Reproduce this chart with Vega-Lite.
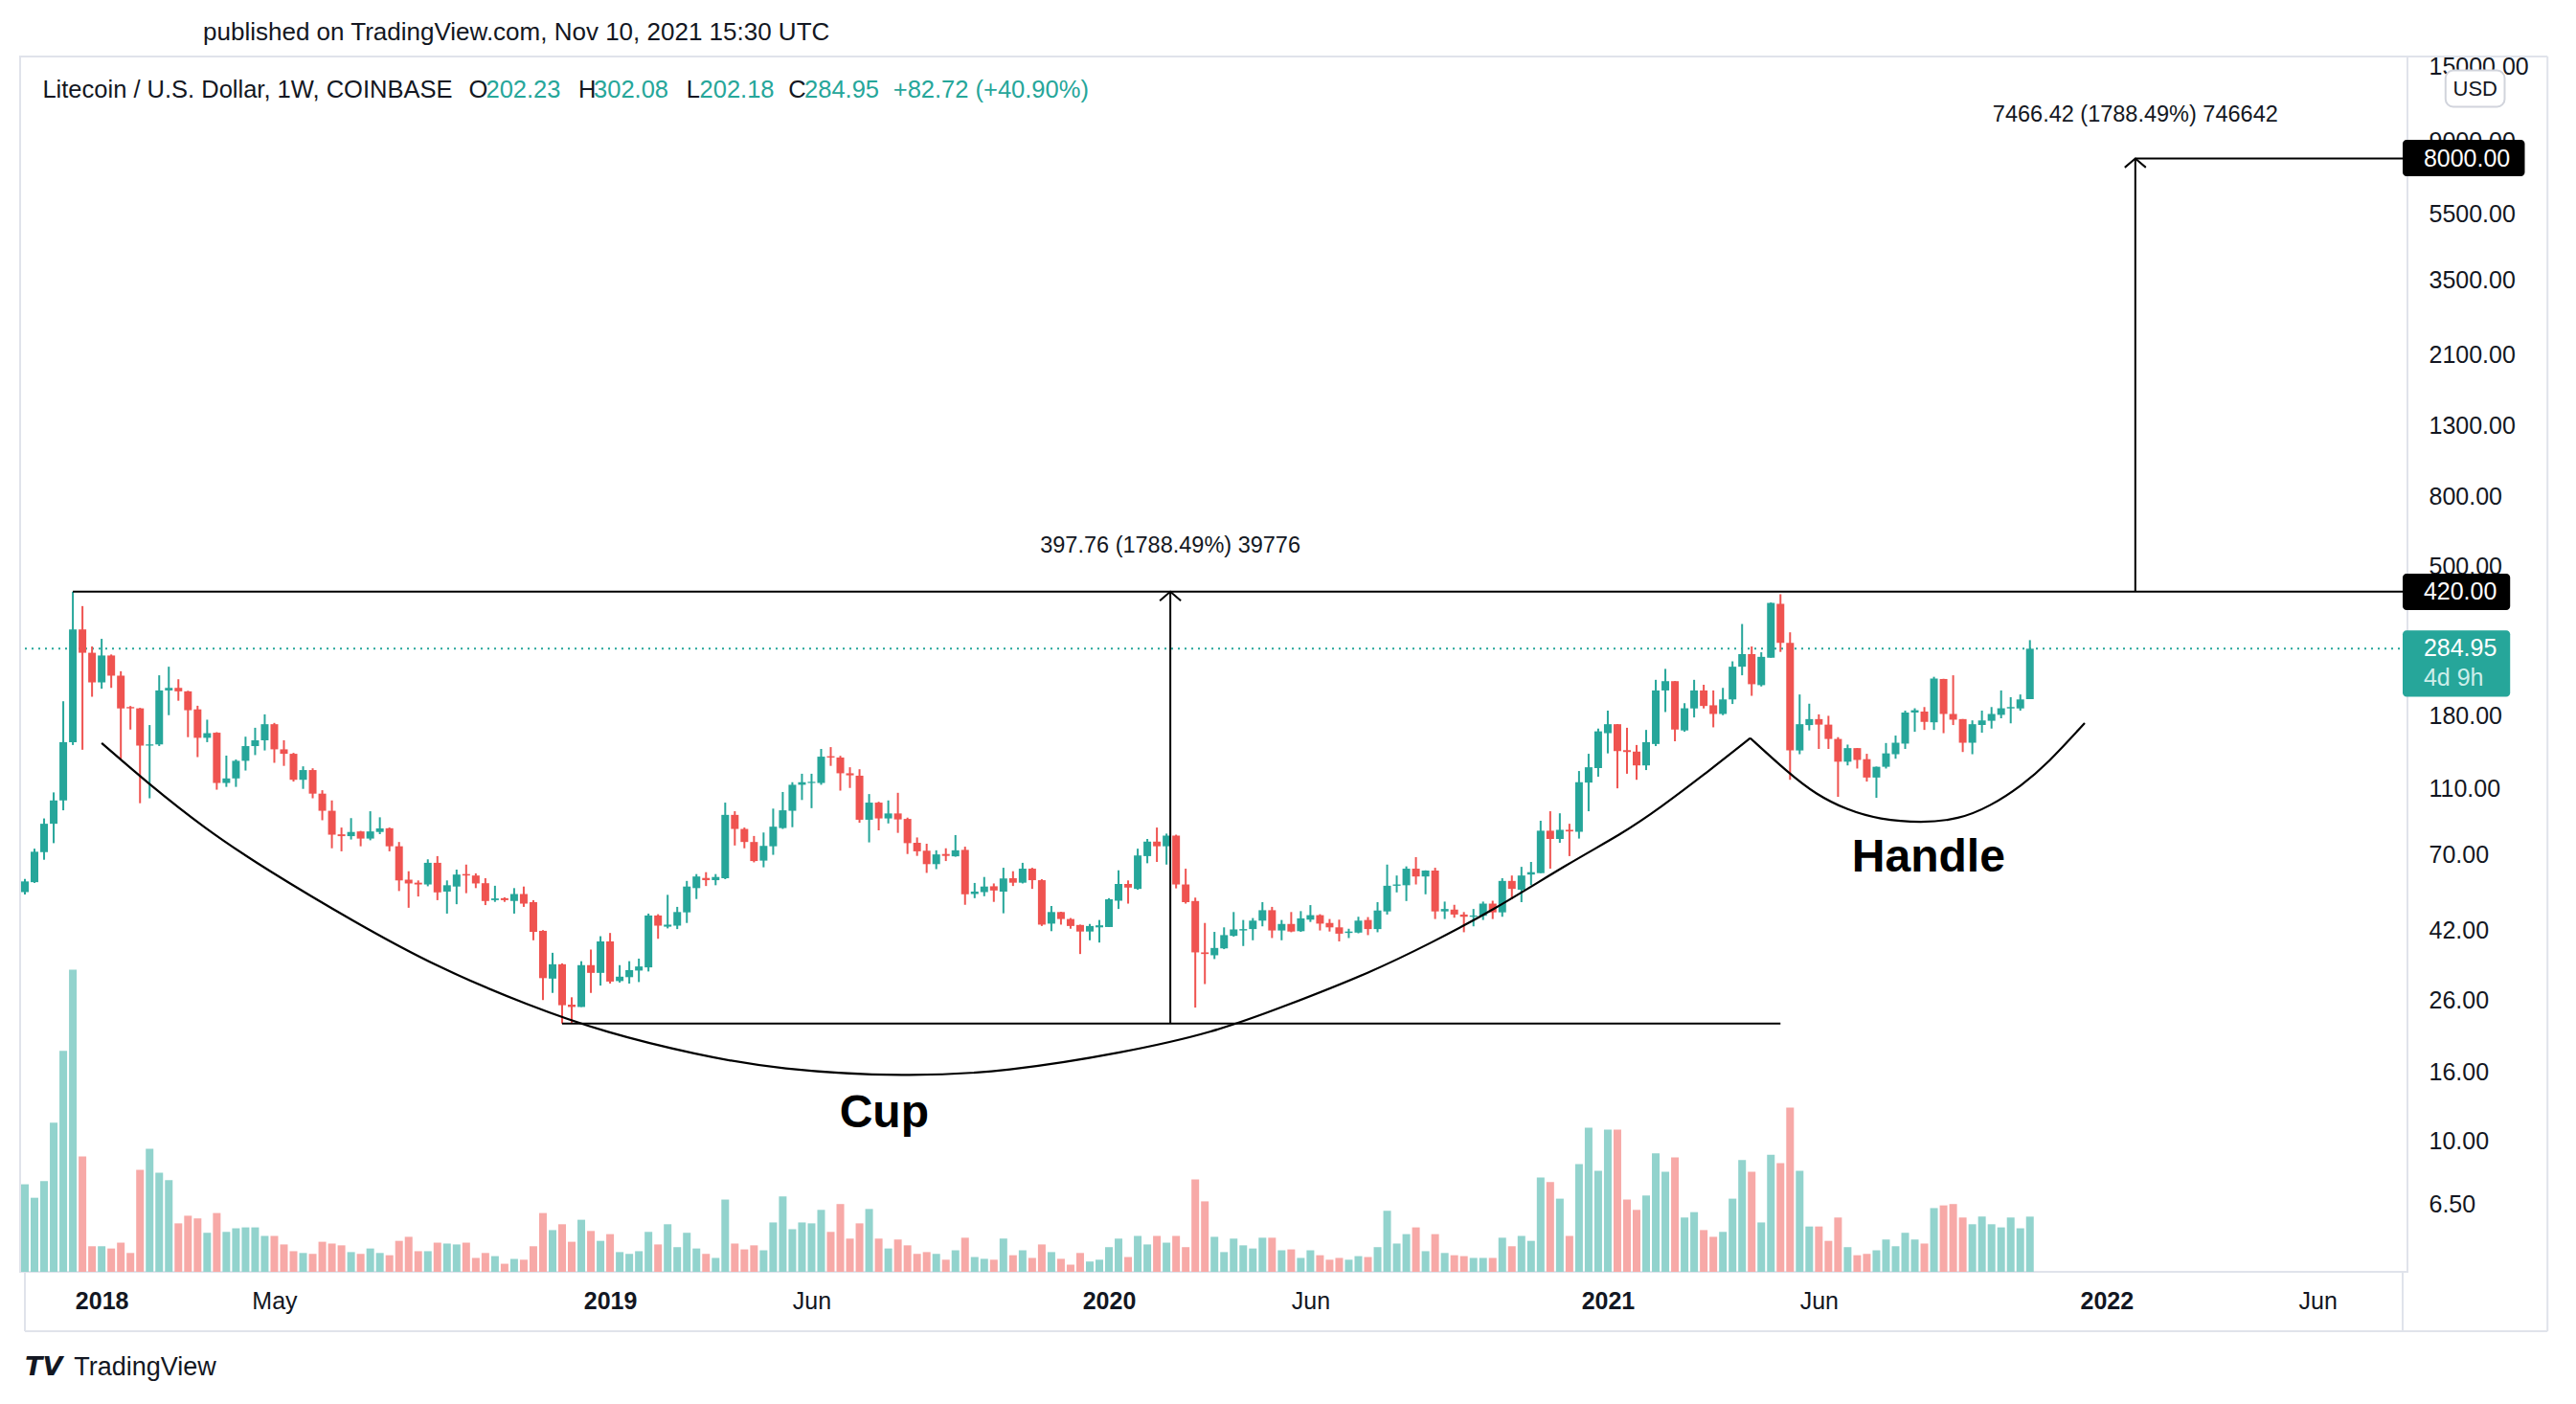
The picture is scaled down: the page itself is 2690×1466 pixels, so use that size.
{
"$schema": "https://vega.github.io/schema/vega-lite/v6.json",
"autosize": {"type": "none"},
"width": 2493, "height": 1269,
"padding": {"left": 21, "top": 59, "right": 176, "bottom": 138},
"background": "#ffffff",
"config": {"view": {"stroke": "#e0e3eb", "strokeWidth": 2}, "font": "Liberation Sans"},
"datasets": {
"candles": [
{"d":"2017-11-06","o":54.4,"h":59.5,"l":53.5,"c":58.5,"v":195},
{"d":"2017-11-13","o":58.2,"h":73.1,"l":57.9,"c":71.6,"v":165},
{"d":"2017-11-20","o":71.4,"h":89.8,"l":67.8,"c":86.6,"v":202},
{"d":"2017-11-27","o":86.6,"h":107.2,"l":75.9,"c":101.5,"v":332},
{"d":"2017-12-04","o":101.5,"h":199.3,"l":94.9,"c":150.9,"v":492},
{"d":"2017-12-11","o":150.9,"h":420,"l":148,"c":324.9,"v":673},
{"d":"2017-12-18","o":324.9,"h":380.8,"l":143.3,"c":277.2,"v":257},
{"d":"2017-12-25","o":277.2,"h":289.3,"l":205.5,"c":226.6,"v":57},
{"d":"2018-01-01","o":226.6,"h":304.7,"l":217,"c":272.1,"v":57},
{"d":"2018-01-08","o":272.1,"h":274,"l":218.3,"c":237.2,"v":52},
{"d":"2018-01-15","o":237.2,"h":244.5,"l":134.8,"c":189.8,"v":65},
{"d":"2018-01-22","o":191.6,"h":193,"l":164.4,"c":189.9,"v":42},
{"d":"2018-01-29","o":189.9,"h":190.5,"l":99.6,"c":147.4,"v":227},
{"d":"2018-02-05","o":147.4,"h":169.5,"l":103,"c":148.6,"v":274},
{"d":"2018-02-12","o":148.6,"h":237.8,"l":147,"c":214.5,"v":221},
{"d":"2018-02-19","o":214.5,"h":252.1,"l":181.3,"c":218.3,"v":204},
{"d":"2018-02-26","o":218.3,"h":231.5,"l":200,"c":213.2,"v":108},
{"d":"2018-03-05","o":213.2,"h":214,"l":156.1,"c":187.5,"v":125},
{"d":"2018-03-12","o":188.6,"h":193.3,"l":136.3,"c":155.4,"v":119},
{"d":"2018-03-19","o":155.4,"h":175.8,"l":150.9,"c":160.4,"v":87},
{"d":"2018-03-26","o":160.9,"h":161.5,"l":109.2,"c":114.3,"v":131},
{"d":"2018-04-02","o":114.3,"h":137.7,"l":111.3,"c":117.9,"v":89},
{"d":"2018-04-09","o":117.9,"h":134.1,"l":111.3,"c":132.9,"v":97},
{"d":"2018-04-16","o":132.9,"h":156.6,"l":124.4,"c":146.9,"v":99},
{"d":"2018-04-23","o":146.9,"h":166.4,"l":138.2,"c":152.8,"v":99},
{"d":"2018-04-30","o":152.8,"h":182.3,"l":142.6,"c":170.5,"v":80},
{"d":"2018-05-07","o":170.5,"h":172,"l":131.1,"c":143.7,"v":80},
{"d":"2018-05-14","o":143.7,"h":152.8,"l":128.4,"c":139.4,"v":61},
{"d":"2018-05-21","o":139.4,"h":140.3,"l":115.4,"c":116.8,"v":46},
{"d":"2018-05-28","o":116.8,"h":128,"l":109.8,"c":124.8,"v":42},
{"d":"2018-06-04","o":124.8,"h":126.3,"l":103,"c":106.3,"v":40},
{"d":"2018-06-11","o":106.3,"h":108.8,"l":88.7,"c":94.6,"v":67},
{"d":"2018-06-18","o":94.6,"h":101.5,"l":73.3,"c":80.4,"v":63},
{"d":"2018-06-25","o":80.6,"h":84.4,"l":71.8,"c":79.6,"v":59},
{"d":"2018-07-02","o":79.6,"h":90,"l":77.8,"c":81.9,"v":44},
{"d":"2018-07-09","o":82.2,"h":82.5,"l":74.3,"c":78.3,"v":40},
{"d":"2018-07-16","o":78.3,"h":94.3,"l":77.4,"c":82.2,"v":52},
{"d":"2018-07-23","o":81.9,"h":90.5,"l":80.7,"c":83.9,"v":42},
{"d":"2018-07-30","o":84,"h":84.4,"l":71.8,"c":74.3,"v":37},
{"d":"2018-08-06","o":74.3,"h":76.5,"l":54.8,"c":58.9,"v":69},
{"d":"2018-08-13","o":59.2,"h":62.7,"l":48.9,"c":57.7,"v":78},
{"d":"2018-08-20","o":58,"h":58.9,"l":52.8,"c":57.3,"v":46},
{"d":"2018-08-27","o":57.3,"h":68,"l":56.6,"c":66.4,"v":46},
{"d":"2018-09-03","o":66.4,"h":69.5,"l":51.5,"c":54.3,"v":65},
{"d":"2018-09-10","o":54.6,"h":58.9,"l":47,"c":57,"v":63},
{"d":"2018-09-17","o":56.5,"h":63.4,"l":50.1,"c":61.3,"v":61},
{"d":"2018-09-24","o":61.5,"h":65.6,"l":54,"c":60.9,"v":65},
{"d":"2018-10-01","o":60.9,"h":61.8,"l":55.9,"c":57.7,"v":31},
{"d":"2018-10-08","o":57.8,"h":59.8,"l":49.8,"c":51.2,"v":42},
{"d":"2018-10-15","o":51.5,"h":56.8,"l":50.9,"c":52.1,"v":35},
{"d":"2018-10-22","o":52.2,"h":52.5,"l":50.9,"c":51.5,"v":18},
{"d":"2018-10-29","o":51.2,"h":55.9,"l":47,"c":53.7,"v":29},
{"d":"2018-11-05","o":53.7,"h":56.5,"l":49.2,"c":50.3,"v":27},
{"d":"2018-11-12","o":50.8,"h":51.5,"l":39.2,"c":41.5,"v":57},
{"d":"2018-11-19","o":41.8,"h":42,"l":26.1,"c":30.3,"v":131},
{"d":"2018-11-26","o":30.2,"h":36,"l":27.4,"c":33.3,"v":93},
{"d":"2018-12-03","o":33.3,"h":33.5,"l":22.24,"c":25.2,"v":106},
{"d":"2018-12-10","o":25.3,"h":26.6,"l":22.3,"c":24.9,"v":67},
{"d":"2018-12-17","o":24.9,"h":34,"l":24.9,"c":33.1,"v":116},
{"d":"2018-12-24","o":33.1,"h":36.8,"l":27.4,"c":31.4,"v":91},
{"d":"2018-12-31","o":31.4,"h":40.3,"l":28.8,"c":38.9,"v":69},
{"d":"2019-01-07","o":38.9,"h":41.2,"l":29.2,"c":29.6,"v":84},
{"d":"2019-01-14","o":29.7,"h":33.1,"l":29.4,"c":30.6,"v":44},
{"d":"2019-01-21","o":30.5,"h":34,"l":29.2,"c":32,"v":40},
{"d":"2019-01-28","o":31.9,"h":34.6,"l":29.5,"c":32.8,"v":46},
{"d":"2019-02-04","o":32.6,"h":47,"l":31.7,"c":46.4,"v":89},
{"d":"2019-02-11","o":46.4,"h":46.8,"l":39.6,"c":43.3,"v":61},
{"d":"2019-02-18","o":43,"h":53.4,"l":42.5,"c":43.6,"v":106},
{"d":"2019-02-25","o":43.3,"h":49.2,"l":42.3,"c":47.5,"v":55},
{"d":"2019-03-04","o":47.4,"h":58.7,"l":44.1,"c":56.5,"v":87},
{"d":"2019-03-11","o":55.9,"h":61.5,"l":51.9,"c":60.5,"v":52},
{"d":"2019-03-18","o":59.9,"h":62.3,"l":56.7,"c":59,"v":40},
{"d":"2019-03-25","o":59,"h":61.5,"l":57,"c":60.3,"v":31},
{"d":"2019-04-01","o":59.8,"h":100,"l":59.4,"c":92,"v":161},
{"d":"2019-04-08","o":92,"h":94.3,"l":74.7,"c":83.6,"v":63},
{"d":"2019-04-15","o":83.6,"h":84.4,"l":73.3,"c":76.5,"v":50},
{"d":"2019-04-22","o":76.5,"h":79.7,"l":66.6,"c":67.2,"v":59},
{"d":"2019-04-29","o":67.4,"h":81.6,"l":64.4,"c":74.5,"v":48},
{"d":"2019-05-06","o":74.3,"h":96,"l":70.1,"c":84.9,"v":110},
{"d":"2019-05-13","o":84.1,"h":107.5,"l":83.6,"c":94.9,"v":168},
{"d":"2019-05-20","o":94.6,"h":114.9,"l":84.6,"c":112.9,"v":95},
{"d":"2019-05-27","o":112.9,"h":121.7,"l":101.8,"c":114.9,"v":110},
{"d":"2019-06-03","o":114.3,"h":121.7,"l":96.3,"c":115.2,"v":108},
{"d":"2019-06-10","o":114.3,"h":144.1,"l":112.9,"c":136.7,"v":138},
{"d":"2019-06-17","o":137.1,"h":145.9,"l":128.4,"c":135.9,"v":89},
{"d":"2019-06-24","o":135.9,"h":137.5,"l":108.5,"c":122.1,"v":151},
{"d":"2019-07-01","o":122.1,"h":127.2,"l":110.5,"c":120.4,"v":74},
{"d":"2019-07-08","o":120.1,"h":125.5,"l":87.2,"c":89,"v":108},
{"d":"2019-07-15","o":89,"h":106,"l":76.3,"c":100,"v":140},
{"d":"2019-07-22","o":100,"h":100.6,"l":82.8,"c":89.8,"v":74},
{"d":"2019-07-29","o":89.8,"h":101.5,"l":86.8,"c":92.9,"v":52},
{"d":"2019-08-05","o":92.9,"h":106.9,"l":81.4,"c":89.2,"v":72},
{"d":"2019-08-12","o":89.5,"h":90.3,"l":70.5,"c":75.9,"v":59},
{"d":"2019-08-19","o":76.1,"h":78.9,"l":69.6,"c":71.8,"v":40},
{"d":"2019-08-26","o":72.1,"h":75.6,"l":62,"c":65.8,"v":44},
{"d":"2019-09-02","o":65.8,"h":72.3,"l":63.6,"c":70.3,"v":40},
{"d":"2019-09-09","o":70.5,"h":73.3,"l":67.2,"c":69.6,"v":27},
{"d":"2019-09-16","o":69.4,"h":80.2,"l":69.2,"c":72.3,"v":48},
{"d":"2019-09-23","o":72.5,"h":74.1,"l":49.9,"c":53.6,"v":76},
{"d":"2019-09-30","o":53.7,"h":57.9,"l":52.2,"c":54.6,"v":33},
{"d":"2019-10-07","o":54.4,"h":60.3,"l":52.9,"c":56.5,"v":29},
{"d":"2019-10-14","o":56.6,"h":57.7,"l":50.9,"c":55,"v":27},
{"d":"2019-10-21","o":54.6,"h":64.2,"l":47.1,"c":59.7,"v":74},
{"d":"2019-10-28","o":59.8,"h":62.7,"l":56.7,"c":58,"v":37},
{"d":"2019-11-04","o":58,"h":66.4,"l":57.7,"c":63.8,"v":48},
{"d":"2019-11-11","o":63.8,"h":64.2,"l":55.6,"c":59,"v":31},
{"d":"2019-11-18","o":59,"h":59.4,"l":43.2,"c":43.6,"v":61},
{"d":"2019-11-25","o":43.9,"h":49.5,"l":41.7,"c":47.5,"v":44},
{"d":"2019-12-02","o":47.5,"h":47.6,"l":43.6,"c":45.3,"v":29},
{"d":"2019-12-09","o":45.3,"h":45.6,"l":42.4,"c":43.2,"v":16},
{"d":"2019-12-16","o":43.5,"h":43.6,"l":35.7,"c":41.6,"v":42},
{"d":"2019-12-23","o":41.6,"h":43.8,"l":39.2,"c":43.2,"v":23},
{"d":"2019-12-30","o":42.8,"h":45,"l":38.6,"c":43.4,"v":27},
{"d":"2020-01-06","o":42.9,"h":52.2,"l":42.9,"c":51.8,"v":55},
{"d":"2020-01-13","o":51.3,"h":63.1,"l":48.5,"c":57.5,"v":74},
{"d":"2020-01-20","o":57.5,"h":58.9,"l":50.3,"c":56.1,"v":33},
{"d":"2020-01-27","o":55.6,"h":73.1,"l":55.3,"c":69.8,"v":80},
{"d":"2020-02-03","o":69.5,"h":78.1,"l":66.2,"c":76.7,"v":61},
{"d":"2020-02-10","o":76.7,"h":84.4,"l":66.8,"c":74.3,"v":80},
{"d":"2020-02-17","o":74.3,"h":81,"l":65.6,"c":79.9,"v":65},
{"d":"2020-02-24","o":79.9,"h":80.4,"l":55.8,"c":57.3,"v":80},
{"d":"2020-03-02","o":57.3,"h":63.8,"l":50.3,"c":50.8,"v":55},
{"d":"2020-03-09","o":51.2,"h":52.4,"l":24.8,"c":36.1,"v":206},
{"d":"2020-03-16","o":36.1,"h":44.1,"l":29.1,"c":35.7,"v":157},
{"d":"2020-03-23","o":35.4,"h":41.5,"l":34.5,"c":37.2,"v":78},
{"d":"2020-03-30","o":37.1,"h":42.8,"l":36.9,"c":40.6,"v":44},
{"d":"2020-04-06","o":40.4,"h":47.5,"l":40.2,"c":42.2,"v":74},
{"d":"2020-04-13","o":41.9,"h":45,"l":37.7,"c":42.3,"v":59},
{"d":"2020-04-20","o":42.3,"h":45.6,"l":39.2,"c":44.8,"v":52},
{"d":"2020-04-27","o":44.8,"h":50.8,"l":43.1,"c":48.1,"v":76},
{"d":"2020-05-04","o":48.1,"h":49.2,"l":39.8,"c":41.9,"v":76},
{"d":"2020-05-11","o":41.9,"h":45,"l":39.2,"c":43.8,"v":48},
{"d":"2020-05-18","o":43.8,"h":47.5,"l":41.4,"c":41.6,"v":50},
{"d":"2020-05-25","o":41.7,"h":47.8,"l":41.5,"c":45.5,"v":31},
{"d":"2020-06-01","o":45.1,"h":49.8,"l":44.4,"c":46.5,"v":48},
{"d":"2020-06-08","o":46.5,"h":46.8,"l":41.9,"c":43.9,"v":37},
{"d":"2020-06-15","o":44.1,"h":45.3,"l":41.6,"c":42.8,"v":27},
{"d":"2020-06-22","o":42.8,"h":45.1,"l":38.9,"c":41,"v":31},
{"d":"2020-06-29","o":41.2,"h":42.4,"l":39.8,"c":41.6,"v":27},
{"d":"2020-07-06","o":41.3,"h":46,"l":41.1,"c":44.8,"v":35},
{"d":"2020-07-13","o":45,"h":45.9,"l":40.6,"c":42.3,"v":33},
{"d":"2020-07-20","o":42.3,"h":50.8,"l":41.4,"c":48,"v":55},
{"d":"2020-07-27","o":47.7,"h":65.6,"l":46.7,"c":56.8,"v":136},
{"d":"2020-08-03","o":56.8,"h":60.9,"l":54.3,"c":57.3,"v":63},
{"d":"2020-08-10","o":57,"h":64.8,"l":51.2,"c":63.8,"v":84},
{"d":"2020-08-17","o":63.8,"h":69,"l":57.3,"c":60.5,"v":99},
{"d":"2020-08-24","o":60.5,"h":63.1,"l":53.6,"c":63,"v":46},
{"d":"2020-08-31","o":63,"h":64.2,"l":45.3,"c":47.7,"v":84},
{"d":"2020-09-07","o":47.7,"h":51,"l":45.3,"c":48.5,"v":42},
{"d":"2020-09-14","o":48.3,"h":49.9,"l":45.7,"c":46.7,"v":37},
{"d":"2020-09-21","o":46.7,"h":47.5,"l":41.4,"c":46,"v":35},
{"d":"2020-09-28","o":46,"h":48.5,"l":43.1,"c":46.4,"v":31},
{"d":"2020-10-05","o":46.3,"h":51,"l":45,"c":50.3,"v":31},
{"d":"2020-10-12","o":50.3,"h":51.3,"l":45.3,"c":47.4,"v":31},
{"d":"2020-10-19","o":47.4,"h":59.8,"l":46,"c":58.7,"v":76},
{"d":"2020-10-26","o":58.7,"h":60.9,"l":51.8,"c":55.6,"v":57},
{"d":"2020-11-02","o":55.3,"h":64.6,"l":50.8,"c":60.9,"v":80},
{"d":"2020-11-09","o":61.3,"h":66.8,"l":57,"c":62.3,"v":69},
{"d":"2020-11-16","o":61.9,"h":88.4,"l":61.9,"c":82.6,"v":210},
{"d":"2020-11-23","o":82.6,"h":94.3,"l":63.8,"c":78.1,"v":200},
{"d":"2020-11-30","o":78.1,"h":93,"l":76.1,"c":83.1,"v":163},
{"d":"2020-12-07","o":83.1,"h":86.6,"l":69.5,"c":82.2,"v":80},
{"d":"2020-12-14","o":82,"h":124,"l":78.3,"c":114.9,"v":240},
{"d":"2020-12-21","o":114.6,"h":139.4,"l":94.3,"c":127.2,"v":321},
{"d":"2020-12-28","o":126.5,"h":165.5,"l":119.3,"c":162.4,"v":225},
{"d":"2021-01-04","o":160.4,"h":187,"l":139.8,"c":170.5,"v":317},
{"d":"2021-01-11","o":170.5,"h":170.6,"l":110.2,"c":142,"v":317},
{"d":"2021-01-18","o":142.9,"h":166.4,"l":121.7,"c":141.1,"v":161},
{"d":"2021-01-25","o":141.5,"h":148,"l":116.8,"c":128.8,"v":138},
{"d":"2021-02-01","o":128.8,"h":164,"l":124.8,"c":150.9,"v":170},
{"d":"2021-02-08","o":149,"h":230.6,"l":146.9,"c":214.5,"v":264},
{"d":"2021-02-15","o":214.5,"h":248.4,"l":185.2,"c":228.5,"v":223},
{"d":"2021-02-22","o":228.5,"h":228.6,"l":151.8,"c":164.4,"v":255},
{"d":"2021-03-01","o":163.4,"h":196.7,"l":161.9,"c":190,"v":121},
{"d":"2021-03-08","o":189.8,"h":230.6,"l":178.5,"c":214.5,"v":133},
{"d":"2021-03-15","o":214.5,"h":223,"l":189.8,"c":193,"v":93},
{"d":"2021-03-22","o":193.9,"h":214.5,"l":166.9,"c":182.8,"v":78},
{"d":"2021-03-29","o":182.8,"h":218.3,"l":181.3,"c":201.8,"v":89},
{"d":"2021-04-05","o":201.8,"h":261.5,"l":195.6,"c":252.1,"v":163},
{"d":"2021-04-12","o":252.1,"h":337.1,"l":237.8,"c":274.6,"v":249},
{"d":"2021-04-19","o":274.6,"h":289.3,"l":206.8,"c":223.8,"v":223},
{"d":"2021-04-26","o":222.4,"h":278.1,"l":220.4,"c":269.6,"v":110},
{"d":"2021-05-03","o":268,"h":390.3,"l":268,"c":389.1,"v":261},
{"d":"2021-05-10","o":386.7,"h":412.8,"l":278.8,"c":296.5,"v":242},
{"d":"2021-05-17","o":296.5,"h":318.6,"l":116.8,"c":142.6,"v":366},
{"d":"2021-05-24","o":142.6,"h":208.7,"l":139,"c":170.5,"v":225},
{"d":"2021-05-31","o":169.5,"h":196,"l":163.4,"c":176.5,"v":101},
{"d":"2021-06-07","o":176.5,"h":182.3,"l":144.1,"c":170,"v":101},
{"d":"2021-06-14","o":170,"h":180.5,"l":144.1,"c":154.2,"v":69},
{"d":"2021-06-21","o":154.2,"h":156.1,"l":104,"c":132.1,"v":121},
{"d":"2021-06-28","o":132.1,"h":148.4,"l":128.8,"c":144.9,"v":55},
{"d":"2021-07-05","o":144.9,"h":145,"l":126.1,"c":133.7,"v":37},
{"d":"2021-07-12","o":134.4,"h":139.4,"l":115.4,"c":118.6,"v":40},
{"d":"2021-07-19","o":118.6,"h":127.8,"l":103.3,"c":127.6,"v":48},
{"d":"2021-07-26","o":127.6,"h":150,"l":126.1,"c":139.8,"v":72},
{"d":"2021-08-02","o":139,"h":157.8,"l":134.8,"c":150.3,"v":57},
{"d":"2021-08-09","o":149.4,"h":187,"l":144.1,"c":184.6,"v":87},
{"d":"2021-08-16","o":184.6,"h":190,"l":161.9,"c":187.5,"v":72},
{"d":"2021-08-23","o":185.8,"h":191.6,"l":164,"c":173.2,"v":63},
{"d":"2021-08-30","o":172.7,"h":235.4,"l":164,"c":232.6,"v":142},
{"d":"2021-09-06","o":231.9,"h":232.2,"l":160.4,"c":182.8,"v":148},
{"d":"2021-09-13","o":182.8,"h":237.8,"l":169.5,"c":175.8,"v":151},
{"d":"2021-09-20","o":176.5,"h":176.6,"l":141.1,"c":150.3,"v":121},
{"d":"2021-09-27","o":150.3,"h":175,"l":139,"c":170.5,"v":106},
{"d":"2021-10-04","o":169.5,"h":187,"l":160.9,"c":175,"v":123},
{"d":"2021-10-11","o":174.5,"h":191.6,"l":165.5,"c":182.8,"v":106},
{"d":"2021-10-18","o":181.7,"h":214.5,"l":177.5,"c":190,"v":99},
{"d":"2021-10-25","o":189.8,"h":204.9,"l":171.5,"c":191.6,"v":121},
{"d":"2021-11-01","o":189.8,"h":208.7,"l":187,"c":201.8,"v":97},
{"d":"2021-11-08","o":202.23,"h":302.08,"l":202.18,"c":284.95,"v":123}
],
"cup": [
{"d":"2018-01-01","p":150.0},{"d":"2018-02-04","p":113.9},{"d":"2018-03-17","p":84.0},{"d":"2018-04-30","p":63.8},
{"d":"2018-07-06","p":44.0},{"d":"2018-09-03","p":32.6},{"d":"2018-11-09","p":25.1},{"d":"2019-01-04","p":20.9},
{"d":"2019-03-10","p":18.03},{"d":"2019-05-10","p":16.24},{"d":"2019-08-11","p":15.46},{"d":"2019-10-24","p":16.03},
{"d":"2020-01-17","p":18.26},{"d":"2020-03-22","p":20.9},{"d":"2020-05-12","p":24.9},{"d":"2020-07-16","p":31.6},
{"d":"2020-08-28","p":38.5},{"d":"2020-10-11","p":47.7},{"d":"2020-12-08","p":66.8},{"d":"2021-01-14","p":80.7},
{"d":"2021-02-11","p":96.3},{"d":"2021-03-20","p":125.2},{"d":"2021-04-18","p":155.1}
],
"handle": [
{"d":"2021-04-18","p":155.1},{"d":"2021-05-15","p":123.2},{"d":"2021-06-05","p":105.6},{"d":"2021-06-28","p":95.0},
{"d":"2021-07-21","p":89.2},{"d":"2021-08-21","p":87.1},{"d":"2021-09-17","p":89.2},{"d":"2021-10-10","p":97.5},
{"d":"2021-11-02","p":112.3},{"d":"2021-11-21","p":130.6},{"d":"2021-12-18","p":171.8}
],
"borders": [
{"d":"2017-11-06","d2":"2022-11-20T16:00:00Z","p":2.743,"p2":2.743},
{"d":"2022-11-20T16:00:00Z","d2":"2022-11-20T16:00:00Z","p":16014,"p2":2.743},
{"d":"2022-08-07","d2":"2022-11-20T16:00:00Z","p":16014,"p2":16014},
{"d":"2017-11-06","d2":"2017-11-06","p":4.108,"p2":2.743},
{"d":"2022-08-07","d2":"2022-08-07","p":4.108,"p2":2.743}
],
"lastprice": [{"d":"2017-11-06","d2":"2022-08-07","p":284.95}],
"hlines": [
{"d":"2017-12-11","d2":"2022-08-07","p":420},
{"d":"2018-12-03","d2":"2021-05-10","p":22.24},
{"d":"2022-01-23T22:00:00Z","d2":"2022-08-07","p":8000}
],
"vlines": [
{"d":"2020-02-19T19:00:00Z","p":22.24,"p2":420},
{"d":"2022-01-23T22:00:00Z","p":420,"p2":8000}
],
"arrows": [
{"d":"2020-02-19T19:00:00Z","p":420},
{"d":"2022-01-23T22:00:00Z","p":8000}
],
"measure": [
{"d":"2020-02-19T19:00:00Z","p":573.5,"t":"397.76 (1788.49%) 39776"},
{"d":"2022-01-23T22:00:00Z","p":10760,"t":"7466.42 (1788.49%) 746642"}
],
"big": [
{"d":"2019-07-26","p":12.07,"t":"Cup"},
{"d":"2021-08-26","p":68.6,"t":"Handle"}
],
"blacktags": [
{"d":"2022-08-07","d2":"2022-10-24T10:00:00Z","p":474.7,"p2":370.9},
{"d":"2022-08-07","d2":"2022-11-04T02:00:00Z","p":9084,"p2":7092}
],
"tealtag": [{"d":"2022-08-07","d2":"2022-10-24T10:00:00Z","p":322.6,"p2":205.6}],
"tagtext": [
{"d":"2022-08-22T07:00:00Z","p":420,"t":"420.00"},
{"d":"2022-08-22T07:00:00Z","p":8000,"t":"8000.00"},
{"d":"2022-08-22T07:00:00Z","p":284.95,"t":"284.95"}
],
"countdown": [{"d":"2022-08-22T07:00:00Z","p":233.1,"t":"4d 9h"}],
"usdbox": [{"d":"2022-09-07T07:00:00Z","d2":"2022-10-20T10:00:00Z","p":14568,"p2":11378}],
"usdtext": [{"d":"2022-09-28T22:00:00Z","p":12870,"t":"USD"}],
"headblack": [
{"d":"2017-11-18T21:00:00Z","p":12747,"t":"Litecoin / U.S. Dollar, 1W, COINBASE"},
{"d":"2018-09-25T22:00:00Z","p":12747,"t":"O"},
{"d":"2018-12-14T22:00:00Z","p":12747,"t":"H"},
{"d":"2019-03-03T14:00:00Z","p":12747,"t":"L"},
{"d":"2019-05-17T00:00:00Z","p":12747,"t":"C"}
],
"headteal": [
{"d":"2018-10-08T10:00:00Z","p":12747,"t":"202.23"},
{"d":"2018-12-26T02:00:00Z","p":12747,"t":"302.08"},
{"d":"2019-03-13T07:00:00Z","p":12747,"t":"202.18"},
{"d":"2019-05-28T19:00:00Z","p":12747,"t":"284.95"},
{"d":"2019-08-01T14:00:00Z","p":12747,"t":"+82.72 (+40.90%)"}
],
"published": [{"d":"2018-03-16T00:00:00Z","p":18850,"t":"published on TradingView.com, Nov 10, 2021 15:30 UTC"}],
"logo": [{"d":"2017-12-11T19:00:00Z","p":2.14,"t":"TradingView"}],
"logoicon": [{"d":"2017-11-06","p":2.14,"t":"TV"}]
},
"encoding": {
"x": {"field": "d", "type": "temporal", "title": null,
 "scale": {"type": "utc", "domain": [{"year":2017,"month":11,"date":6,"utc":true},{"year":2022,"month":8,"date":7,"utc":true}]},
 "axis": {"title": null, "grid": false, "ticks": false, "tickSize": 0, "domain": false,
  "values": [{"year":2018,"month":1,"date":1,"utc":true},{"year":2018,"month":5,"date":7,"utc":true},{"year":2019,"month":1,"date":7,"utc":true},{"year":2019,"month":6,"date":3,"utc":true},{"year":2020,"month":1,"date":6,"utc":true},{"year":2020,"month":6,"date":1,"utc":true},{"year":2021,"month":1,"date":4,"utc":true},{"year":2021,"month":6,"date":7,"utc":true},{"year":2022,"month":1,"date":3,"utc":true},{"year":2022,"month":6,"date":6,"utc":true}],
  "labelExpr": "utcmonth(datum.value) == 0 ? utcFormat(datum.value, '%Y') : utcFormat(datum.value, '%b')",
  "labelFontWeight": {"condition": {"test": "utcmonth(datum.value) == 0", "value": "bold"}, "value": "normal"},
  "labelPadding": 30, "labelBaseline": "middle", "labelFontSize": 25, "labelColor": "#131722", "labelFont": "Liberation Sans", "labelFlush": false, "labelOverlap": false}}
},
"layer": [
{"data": {"name": "candles"},
 "mark": {"type": "bar", "size": 8, "clip": true},
 "encoding": {
  "y": {"field": "v", "type": "quantitative", "title": null, "scale": {"domain": [0, 2707], "nice": false, "zero": true}, "axis": null},
  "color": {"condition": {"test": "datum.c < datum.o", "value": "#f7a9a7"}, "value": "#92d3cd"}}},
{"layer": [
 {"data": {"name": "borders"}, "mark": {"type": "rule", "stroke": "#e0e3eb", "strokeWidth": 2},
  "encoding": {"x2": {"field": "d2"},
   "y": {"field": "p", "type": "quantitative", "title": null,
    "scale": {"type": "log", "domain": [4.108, 16014], "nice": false},
    "axis": {"orient": "right", "title": null, "grid": false, "ticks": false, "tickSize": 0, "domain": false,
     "values": [6.5,10,16,26,42,70,110,180,500,800,1300,2100,3500,5500,9000,15000], "format": ".2f",
     "labelPadding": 22, "labelAlign": "left", "labelBaseline": "middle", "labelFontSize": 25, "labelColor": "#131722", "labelFont": "Liberation Sans", "labelOverlap": false, "labelFlush": false}},
   "y2": {"field": "p2"}}},
 {"data": {"name": "lastprice"}, "mark": {"type": "rule", "stroke": "#26a69a", "strokeWidth": 2, "strokeDash": [2, 5]},
  "encoding": {"x2": {"field": "d2"}, "y": {"field": "p", "type": "quantitative", "title": null}}},
 {"data": {"name": "candles"}, "mark": {"type": "rule", "strokeWidth": 2, "clip": true},
  "encoding": {"y": {"field": "l", "type": "quantitative", "title": null}, "y2": {"field": "h"},
   "color": {"condition": {"test": "datum.c < datum.o", "value": "#ef5350"}, "value": "#26a69a"}}},
 {"data": {"name": "candles"}, "mark": {"type": "bar", "size": 8, "clip": true},
  "encoding": {"y": {"field": "o", "type": "quantitative", "title": null}, "y2": {"field": "c"},
   "color": {"condition": {"test": "datum.c < datum.o", "value": "#ef5350"}, "value": "#26a69a"}}},
 {"data": {"name": "hlines"}, "mark": {"type": "rule", "stroke": "#000000", "strokeWidth": 2},
  "encoding": {"x2": {"field": "d2"}, "y": {"field": "p", "type": "quantitative", "title": null}}},
 {"data": {"name": "vlines"}, "mark": {"type": "rule", "stroke": "#000000", "strokeWidth": 2},
  "encoding": {"y": {"field": "p", "type": "quantitative", "title": null}, "y2": {"field": "p2"}}},
 {"data": {"name": "arrows"}, "mark": {"type": "point", "shape": "M-1,0.85L0,0L1,0.85", "size": 484, "filled": false, "stroke": "#000000", "strokeWidth": 2, "opacity": 1},
  "encoding": {"y": {"field": "p", "type": "quantitative", "title": null}}},
 {"data": {"name": "cup"}, "mark": {"type": "line", "interpolate": "basis", "stroke": "#000000", "strokeWidth": 2.2},
  "encoding": {"y": {"field": "p", "type": "quantitative", "title": null}}},
 {"data": {"name": "handle"}, "mark": {"type": "line", "interpolate": "basis", "stroke": "#000000", "strokeWidth": 2.2},
  "encoding": {"y": {"field": "p", "type": "quantitative", "title": null}}},
 {"data": {"name": "measure"}, "mark": {"type": "text", "align": "center", "baseline": "middle", "fontSize": 23.5, "color": "#131722", "font": "Liberation Sans"},
  "encoding": {"y": {"field": "p", "type": "quantitative", "title": null}, "text": {"field": "t"}}},
 {"data": {"name": "big"}, "mark": {"type": "text", "align": "center", "baseline": "middle", "fontSize": 48, "fontWeight": "bold", "color": "#000000", "font": "Liberation Sans"},
  "encoding": {"y": {"field": "p", "type": "quantitative", "title": null}, "text": {"field": "t"}}},
 {"data": {"name": "blacktags"}, "mark": {"type": "rect", "color": "#000000", "cornerRadius": 4},
  "encoding": {"x2": {"field": "d2"}, "y": {"field": "p", "type": "quantitative", "title": null}, "y2": {"field": "p2"}}},
 {"data": {"name": "tealtag"}, "mark": {"type": "rect", "color": "#26a69a", "cornerRadius": 4},
  "encoding": {"x2": {"field": "d2"}, "y": {"field": "p", "type": "quantitative", "title": null}, "y2": {"field": "p2"}}},
 {"data": {"name": "tagtext"}, "mark": {"type": "text", "align": "left", "baseline": "middle", "fontSize": 25, "color": "#ffffff", "font": "Liberation Sans"},
  "encoding": {"y": {"field": "p", "type": "quantitative", "title": null}, "text": {"field": "t"}}},
 {"data": {"name": "countdown"}, "mark": {"type": "text", "align": "left", "baseline": "middle", "fontSize": 25, "color": "#cdeeea", "font": "Liberation Sans"},
  "encoding": {"y": {"field": "p", "type": "quantitative", "title": null}, "text": {"field": "t"}}},
 {"data": {"name": "usdbox"}, "mark": {"type": "rect", "fill": "#ffffff", "stroke": "#d1d4dc", "strokeWidth": 2, "cornerRadius": 8},
  "encoding": {"x2": {"field": "d2"}, "y": {"field": "p", "type": "quantitative", "title": null}, "y2": {"field": "p2"}}},
 {"data": {"name": "usdtext"}, "mark": {"type": "text", "align": "center", "baseline": "middle", "fontSize": 22, "color": "#131722", "font": "Liberation Sans"},
  "encoding": {"y": {"field": "p", "type": "quantitative", "title": null}, "text": {"field": "t"}}},
 {"data": {"name": "headblack"}, "mark": {"type": "text", "align": "left", "baseline": "middle", "fontSize": 25.5, "color": "#131722", "font": "Liberation Sans"},
  "encoding": {"y": {"field": "p", "type": "quantitative", "title": null}, "text": {"field": "t"}}},
 {"data": {"name": "headteal"}, "mark": {"type": "text", "align": "left", "baseline": "middle", "fontSize": 25.5, "color": "#26a69a", "font": "Liberation Sans"},
  "encoding": {"y": {"field": "p", "type": "quantitative", "title": null}, "text": {"field": "t"}}},
 {"data": {"name": "published"}, "mark": {"type": "text", "align": "left", "baseline": "middle", "fontSize": 26, "color": "#131722", "font": "Liberation Sans"},
  "encoding": {"y": {"field": "p", "type": "quantitative", "title": null}, "text": {"field": "t"}}},
 {"data": {"name": "logo"}, "mark": {"type": "text", "align": "left", "baseline": "middle", "fontSize": 27, "color": "#131722", "font": "Liberation Sans"},
  "encoding": {"y": {"field": "p", "type": "quantitative", "title": null}, "text": {"field": "t"}}},
 {"data": {"name": "logoicon"}, "mark": {"type": "text", "align": "left", "baseline": "middle", "fontSize": 27, "fontWeight": "bold", "fontStyle": "italic", "color": "#131722", "font": "DejaVu Sans"},
  "encoding": {"y": {"field": "p", "type": "quantitative", "title": null}, "text": {"field": "t"}}}
 ]}
],
"resolve": {"scale": {"y": "independent"}, "axis": {"y": "independent"}}
}
